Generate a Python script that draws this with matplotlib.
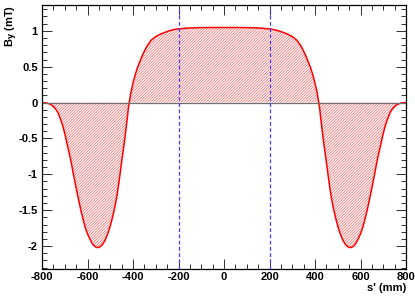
import matplotlib
matplotlib.use("Agg")
import matplotlib.pyplot as plt
from matplotlib.ticker import MultipleLocator

# field profile, s' in mm, B_y in mT
s_mm = [-800, -790, -780, -770, -760, -750, -740, -730, -720, -710, -700, -690,
        -680, -670, -660, -650, -640, -630, -620, -610, -600, -590, -580, -570,
        -560, -550, -540, -530, -520, -510, -500, -490, -480, -470, -460, -450,
        -440, -430, -420, -410, -400, -390, -380, -360, -340, -320, -300, -275,
        -250, -225, -200, -150, -100, -50, 0, 50, 100, 150, 200, 225,
        250, 275, 300, 320, 340, 360, 380, 390, 400, 410, 420, 430,
        440, 450, 460, 470, 480, 490, 500, 510, 520, 530, 540, 550,
        560, 570, 580, 590, 600, 610, 620, 630, 640, 650, 660, 670,
        680, 690, 700, 710, 720, 730, 740, 750, 760, 770, 780, 790, 800]
by_mT = [0.0, -0.002, -0.006, -0.015, -0.03, -0.055, -0.09, -0.14, -0.22, -0.31, -0.43, -0.57,
         -0.71, -0.86, -1.03, -1.19, -1.34, -1.49, -1.62, -1.74, -1.83, -1.90, -1.96, -2.00,
         -2.02, -2.02, -2.00, -1.96, -1.90, -1.82, -1.72, -1.60, -1.46, -1.29, -1.07, -0.83,
         -0.60, -0.35, -0.07, 0.13, 0.27, 0.39, 0.49, 0.65, 0.78, 0.87, 0.92, 0.96,
         0.99, 1.015, 1.028, 1.040, 1.045, 1.046, 1.046, 1.046, 1.045, 1.040, 1.027, 1.013,
         0.99, 0.96, 0.92, 0.87, 0.78, 0.65, 0.49, 0.39, 0.27, 0.13, -0.07, -0.35,
         -0.60, -0.83, -1.07, -1.29, -1.46, -1.60, -1.72, -1.82, -1.90, -1.96, -2.00, -2.02,
         -2.02, -2.00, -1.96, -1.90, -1.83, -1.74, -1.62, -1.49, -1.34, -1.19, -1.03, -0.86,
         -0.71, -0.57, -0.43, -0.31, -0.22, -0.14, -0.09, -0.055, -0.03, -0.015, -0.006, -0.002, 0.0]
marker_s = [-200, 200]

plt.rcParams['font.family'] = ['Liberation Sans', 'DejaVu Sans']
plt.rcParams['font.weight'] = 'bold'
plt.rcParams['hatch.linewidth'] = 0.5

fig = plt.figure(figsize=(4.15, 3.0), dpi=100)
ax = fig.add_axes([42/415, 1 - 269/300, 364/415, 264/300])

ax.fill_between(s_mm, by_mT, 0, facecolor='none', edgecolor='#ff6666',
                hatch='////////////', linewidth=0)
ax.plot(s_mm, by_mT, color='red', lw=1.1)
ax.axhline(0, color='#707070', lw=0.9)
for s in marker_s:
    ax.axvline(s, color='#4040ff', lw=0.9, ls=(0, (3, 2)), snap=True)

ax.set_xlim(-800, 800)
ax.set_ylim(-2.32, 1.36)
ax.xaxis.set_major_locator(MultipleLocator(200))
ax.xaxis.set_minor_locator(MultipleLocator(50))
ax.yaxis.set_major_locator(MultipleLocator(0.5))
ax.yaxis.set_minor_locator(MultipleLocator(0.1))
ax.tick_params(which='both', direction='in', top=True, right=True,
               labelsize=8, width=0.7, color='#303030')
ax.tick_params(which='major', length=7)
ax.tick_params(which='minor', length=3.5)
ax.tick_params(axis='x', pad=2.5)
ax.tick_params(axis='y', pad=3)
ax.set_xticklabels([f"{int(v)}" for v in ax.get_xticks()])
ax.set_yticklabels([f"{v:g}" for v in ax.get_yticks()])
for sp in ax.spines.values():
    sp.set_linewidth(0.9)

fig.text(406/415, 1 - 288/300, "s' (mm)", fontsize=8, ha='right', va='center')
fig.text(12/415, 1 - 5/300, "B$_\\mathbf{y}$ (mT)", fontsize=8, rotation=90,
         ha='center', va='top')

fig.savefig("out.png", dpi=100)
